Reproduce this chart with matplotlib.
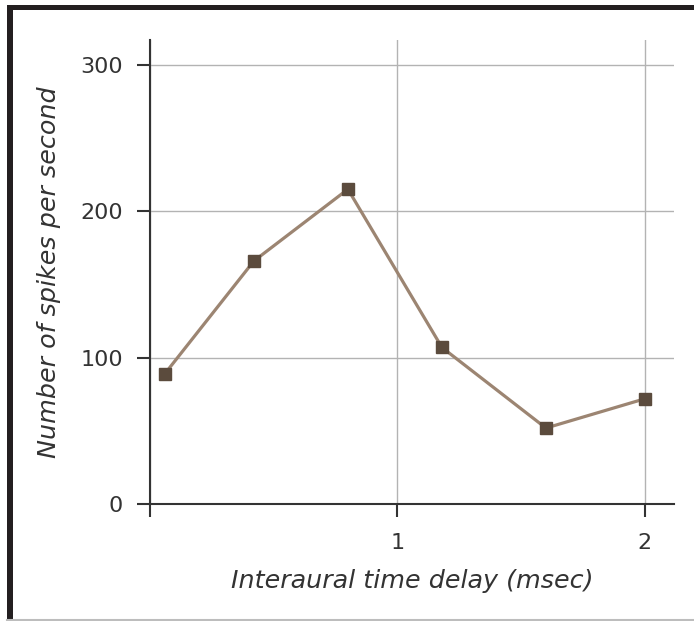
import matplotlib.pyplot as plt
from matplotlib.patches import Rectangle
from matplotlib.lines import Line2D

# Datos
retardo = [0.06, 0.42, 0.80, 1.18, 1.60, 2.00]      # msec
espigas = [89, 166, 215, 107, 52, 72]               # spikes/s
ticks_x = [0, 1, 2]
etiquetas_x = ['', '1', '2']
ticks_y = [0, 100, 200, 300]

fonteTicks = 16
fonteRotulos = 18.3
corTexto = '#333333'
corLinha = '#9c8572'
corMarca = '#5b4b3d'

plt.rcParams['font.family'] = 'DejaVu Sans'

fig = plt.figure(figsize=(6.94, 6.21), dpi=100)
ax = fig.add_axes([0.216, 0.188, 0.755, 0.748])

ax.plot(retardo, espigas, color=corLinha, linewidth=2.3, marker='s',
        markersize=8, markerfacecolor=corMarca, markeredgecolor=corMarca, zorder=3)

ax.set_xlim(0, 2.117)
ax.set_ylim(0, 317)
ax.set_xticks(ticks_x)
ax.set_xticklabels(etiquetas_x)
ax.set_yticks(ticks_y)

ax.grid(True, color='#b3b3b3', linewidth=1.0)
ax.set_axisbelow(True)
for lado in ['top', 'right']:
    ax.spines[lado].set_visible(False)
for lado in ['left', 'bottom']:
    ax.spines[lado].set_color(corTexto)
    ax.spines[lado].set_linewidth(1.5)

ax.tick_params(axis='both', direction='out', length=9.5, width=1.5,
               color=corTexto, labelcolor=corTexto, labelsize=fonteTicks)
ax.tick_params(axis='y', pad=10)
ax.tick_params(axis='x', pad=11)

ax.set_xlabel('Interaural time delay (msec)', fontsize=fonteRotulos, style='italic',
              color=corTexto, labelpad=12)
ax.set_ylabel('Number of spikes per second', fontsize=fonteRotulos, style='italic',
              color=corTexto, labelpad=14)

# Moldura
fig.patches.append(Rectangle((0.0105, 0.0), 0.0085, 0.992, transform=fig.transFigure,
                             facecolor='#231f20', edgecolor='none'))
fig.patches.append(Rectangle((0.0105, 0.984), 0.99, 0.008, transform=fig.transFigure,
                             facecolor='#231f20', edgecolor='none'))
fig.lines.append(Line2D([0.0105, 1.0], [0.0015, 0.0015], transform=fig.transFigure,
                        color='#bdbdbd', linewidth=1.5))

plt.savefig('out.png', dpi=100)
